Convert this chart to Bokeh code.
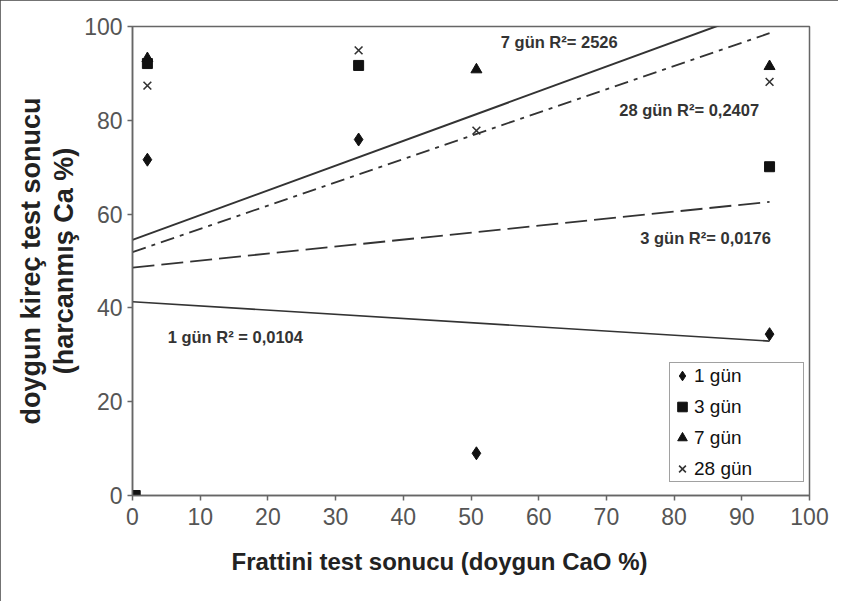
from bokeh.plotting import figure
from bokeh.models import Range1d, FixedTicker, Legend, LegendItem, ColumnDataSource, Title
from bokeh.core.properties import value
from bokeh.embed import file_html
from bokeh.resources import INLINE

# ---- data ----
series_names = ["1 gün", "3 gün", "7 gün", "28 gün"]
x_1gun = [2.2, 33.4, 50.8, 94.1]
y_1gun = [71.6, 75.9, 9.0, 34.4]
x_3gun = [0.4, 2.2, 33.4, 94.1]
y_3gun = [0.0, 92.1, 91.7, 70.1]
x_7gun = [2.2, 50.8, 94.1]
y_7gun = [93.2, 90.8, 91.5]
x_28gun = [2.2, 33.4, 50.8, 94.1]
y_28gun = [87.4, 94.9, 77.8, 88.2]

# linear trend lines (intercept, slope)
trend_intercepts = [41.3, 48.6, 54.5, 51.9]
trend_slopes = [-0.089, 0.149, 0.528, 0.496]
trend_xmin = 0.0
trend_xmax = 94.1

trend_labels = ["1 gün R\u00b2 = 0,0104", "3 gün R\u00b2= 0,0176",
                "7 gün R\u00b2= 2526", "28 gün R\u00b2= 0,2407"]
trend_label_x = [5.2, 75.0, 54.4, 71.9]
trend_label_y = [33.9, 54.8, 96.6, 82.3]

x_ticks = [0, 10, 20, 30, 40, 50, 60, 70, 80, 90, 100]
y_ticks = [0, 20, 40, 60, 80, 100]

x_title = "Frattini test sonucu (doygun CaO %)"
y_title = "doygun kireç test sonucu\n(harcanmış Ca %)"

FONT = "'Liberation Sans', Arial, sans-serif"

p = figure(width=838, height=601, output_backend="svg", toolbar_location=None,
           x_range=Range1d(0, 100), y_range=Range1d(0, 100),
           min_border_left=132, min_border_right=29, min_border_top=26, min_border_bottom=106)
p.styles = {"outline": "2px solid #444", "outline-offset": "-2px"}
p.grid.visible = False
p.outline_line_color = "#666"
p.outline_line_width = 1.5
p.background_fill_color = "white"
p.border_fill_color = "white"

for ax in (p.xaxis[0], p.yaxis[0]):
    ax.axis_line_color = "#666"
    ax.axis_line_width = 1.5
    ax.major_tick_line_color = "#666"
    ax.major_tick_line_width = 1.5
    ax.major_tick_out = 5
    ax.major_tick_in = 0
    ax.minor_tick_line_color = None
    ax.major_label_text_font = FONT
    ax.major_label_text_font_size = "23px"
    ax.major_label_text_color = "#555"
    ax.major_label_standoff = 5
p.xaxis.major_label_standoff = 7

p.xaxis.ticker = FixedTicker(ticks=x_ticks)
p.yaxis.ticker = FixedTicker(ticks=y_ticks)
p.yaxis.axis_label = y_title
p.yaxis.axis_label_text_font = FONT
p.yaxis.axis_label_text_font_style = "bold"
p.yaxis.axis_label_text_font_size = "27px"
p.yaxis.axis_label_text_line_height = 1.1
p.yaxis.axis_label_text_color = "#222"
p.yaxis.axis_label_standoff = 2

# x title (offset to the left as in the reference)
p.add_layout(Title(text=x_title, align="left", offset=99, text_font=FONT,
                   text_font_style="bold", text_font_size="24px", text_color="#222",
                   standoff=36), "below")

# trend lines
dashes = ["solid", "22 7", "solid", "14 6 4 6"]
widths = [1.6, 1.8, 2.0, 1.8]
for b, m, d, w in zip(trend_intercepts, trend_slopes, dashes, widths):
    xs = [trend_xmin, trend_xmax]
    ys = [b + m * trend_xmin, b + m * trend_xmax]
    p.line(xs, ys, line_color="#333", line_width=w, line_dash=d)

# markers
r28 = p.scatter(x_28gun, y_28gun, marker="x", size=11, line_color="#333", line_width=1.6)
r1 = p.scatter(x_1gun, y_1gun, marker="diamond", size=13, fill_color="#111", line_color="#111")
r7 = p.scatter(x_7gun, y_7gun, marker="triangle", size=11, fill_color="#111", line_color="#111")
r3 = p.scatter(x_3gun, y_3gun, marker="square", size=10, fill_color="#111", line_color="#111")

# trend labels
src = ColumnDataSource(dict(x=trend_label_x, y=trend_label_y, t=trend_labels))
p.text(x="x", y="y", text="t", source=src, text_font=value(FONT),
       text_font_style="bold", text_font_size="16.5px", text_color="#333",
       text_align="left", text_baseline="middle")

legend = Legend(items=[LegendItem(label=series_names[0], renderers=[r1]),
                       LegendItem(label=series_names[1], renderers=[r3]),
                       LegendItem(label=series_names[2], renderers=[r7]),
                       LegendItem(label=series_names[3], renderers=[r28])],
                location=(537, 13))
legend.border_line_color = "#444"
legend.border_line_width = 1.5
legend.padding = 0
legend.spacing = 6
legend.margin = 0
legend.glyph_width = 24
legend.glyph_height = 25
legend.label_height = 25
legend.label_width = 109
legend.label_standoff = 0
legend.label_text_font = FONT
legend.label_text_font_size = "19px"
legend.label_text_color = "#111"
legend.background_fill_color = "white"
p.add_layout(legend, "center")

open("out.html", "w").write(file_html(p, INLINE))
